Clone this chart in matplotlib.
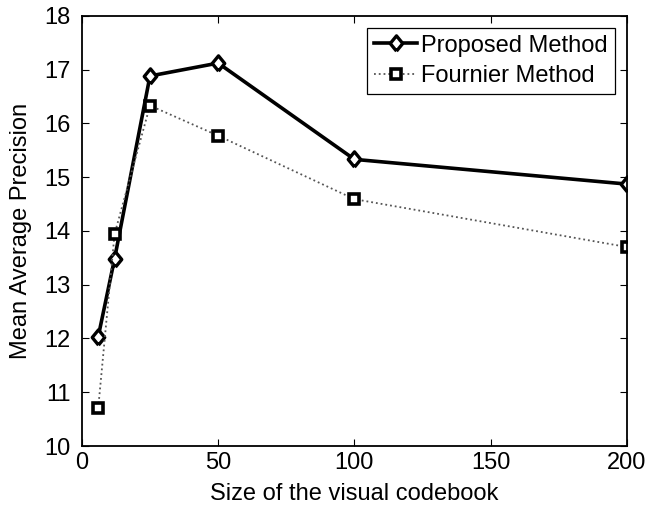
import numpy as np
import matplotlib.pyplot as plt

plt.rcParams['font.family'] = ['Liberation Sans', 'DejaVu Sans']

codebook_size = [6, 12, 25, 50, 100, 200]
proposed_map = [12.03, 13.48, 16.88, 17.12, 15.33, 14.87]
fournier_map = [10.70, 13.94, 16.33, 15.77, 14.59, 13.70]

# matlab-like diamond (a bit taller than wide)
diamond = [(0, -1), (0.82, 0), (0, 1), (-0.82, 0), (0, -1)]

fig = plt.figure(figsize=(6.6, 5.08), dpi=100)
ax = fig.add_axes([0.124, 0.122, 0.826, 0.847])

ax.plot(codebook_size, proposed_map, '-', color='black', lw=2.6,
        marker=diamond, ms=11, mfc='white', mec='black', mew=2.4,
        label='Proposed Method')
ax.plot(codebook_size, fournier_map, ':', color='#555555', lw=1.3,
        marker='s', ms=7, mfc='white', mec='black', mew=2.6,
        label='Fournier Method')

ax.set_xlim(0, 200)
ax.set_ylim(10, 18)
ax.set_xticks([0, 50, 100, 150, 200])
ax.set_yticks(np.arange(10, 19, 1))
ax.tick_params(direction='in', top=True, right=True, labelsize=17, length=5, width=0.8)
ax.tick_params(axis='y', pad=8)
ax.tick_params(axis='x', pad=4)
for s in ax.spines.values():
    s.set_linewidth(1.3)

ax.set_xlabel('Size of the visual codebook', fontsize=17, labelpad=7)
ax.set_ylabel('Mean Average Precision', fontsize=17, labelpad=9)

leg = ax.legend(loc='upper right', fontsize=17, fancybox=False, framealpha=1,
                edgecolor='black', borderaxespad=0.5, handlelength=1.8,
                borderpad=0.3, labelspacing=0.35, handletextpad=0.2)
leg.get_frame().set_linewidth(0.9)

plt.savefig('out.png')
